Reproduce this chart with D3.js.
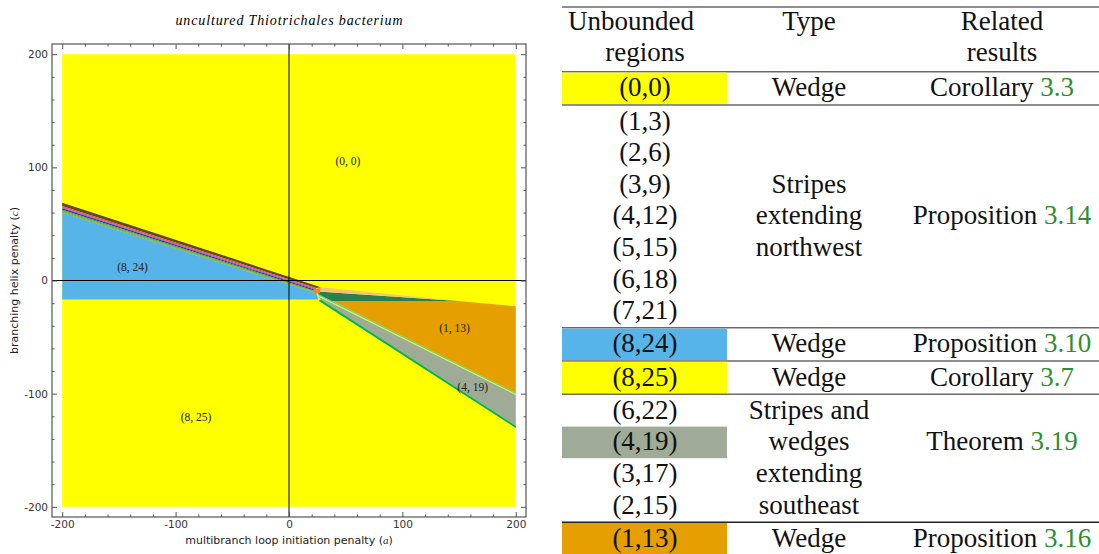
<!DOCTYPE html>
<html>
<head>
<meta charset="utf-8">
<script src="https://cdn.jsdelivr.net/npm/d3@7"></script>
<style>
  body { margin: 0; background: #fff; }
  svg { display: block; }
</style>
</head>
<body>
<svg id="chart" width="1099" height="554"></svg>
<script>
// ---- data (parameter space a vs c) ----
var plotTitle = "uncultured Thiotrichales bacterium";
var majorTicks = [-200, -100, 0, 100, 200];
var minorTicks = [-180, -160, -140, -120, -80, -60, -40, -20, 20, 40, 60, 80, 120, 140, 160, 180];

var yellowBox = [[-200, -200], [-200, 200], [200, 200], [200, -200]];
var blueWedge = [[-200, 59.9], [24, -11.3], [26, -16.8], [-200, -16.8]];
var orangeWedge = [[36, -18.2], [149, -18.1], [200, -22.7], [200, -99.4], [26, -12.0]];
var greenSliver = [[25.6, -9.7], [149, -18.1], [36, -18.2], [26, -12.6]];
var peachSliver = [[28, -5.9], [149, -18.1], [25.6, -9.7]];
var apexPatch = [[21, -8.2], [28, -6.4], [27, -11.2], [23, -11.8]];
var stripe215 = [[26, -12.0], [200, -99.4], [200, -100.2], [25.5, -12.8]];
var stripe317 = [[25.5, -12.8], [200, -100.2], [200, -101.1], [25, -13.6]];
var grayWedge = [[25, -13.6], [200, -101.1], [200, -128.3], [28, -16.8]];
var stripe622 = [[28, -16.8], [200, -128.3], [200, -130.3], [26, -18.0]];

// northwest stripes (1,3)..(7,21): boundary y at a=-200, and end points near the apex
var bundleLeftY = [68.7, 65.8, 64.6, 63.8, 62.5, 61.6, 60.8, 59.9];
var bundleRight = [[28, -5.9], [24, -6.6], [24, -7.6], [24, -8.4], [24, -9.4], [24, -10.2], [24, -10.8], [24, -11.3]];
var bundleColors = ["#5c4a1f", "#ee4d88", "#c03fd0", "#2836e8", "#27a862", "#8c9a3c", "#5fb08a"];

var plotLabels = [["(0, 0)", 52, 106], ["(8, 24)", -138, 12], ["(1, 13)", 146, -42], ["(4, 19)", 162, -94], ["(8, 25)", -82, -121]];

// ---- table ----
var tableGroups = [
  { rows: ["(0,0)"], fills: ["#ffff00"], type: ["Wedge"], typeRow: 0, result: ["Corollary", "3.3"], resultRow: 0 },
  { rows: ["(1,3)", "(2,6)", "(3,9)", "(4,12)", "(5,15)", "(6,18)", "(7,21)"], fills: [], type: ["Stripes", "extending", "northwest"], typeRow: 2, result: ["Proposition", "3.14"], resultRow: 3 },
  { rows: ["(8,24)"], fills: ["#56b4e9"], type: ["Wedge"], typeRow: 0, result: ["Proposition", "3.10"], resultRow: 0 },
  { rows: ["(8,25)"], fills: ["#ffff00"], type: ["Wedge"], typeRow: 0, result: ["Corollary", "3.7"], resultRow: 0 },
  { rows: ["(6,22)", "(4,19)", "(3,17)", "(2,15)"], fills: [null, "#9fab96"], type: ["Stripes and", "wedges", "extending", "southeast"], typeRow: 0, result: ["Theorem", "3.19"], resultRow: 1 },
  { rows: ["(1,13)"], fills: ["#e69f00"], type: ["Wedge"], typeRow: 0, result: ["Proposition", "3.16"], resultRow: 0 }
];
var headerCols = [["Unbounded", "regions"], ["Type"], ["Related", "results"]];

var yellow = "#ffff00", blue = "#56b4e9", orange = "#e69f00", gray = "#9fab96";

// ---- plot ----
var svg = d3.select("#chart");
var x = d3.scaleLinear().domain([-209, 209]).range([52, 526]);
var y = d3.scaleLinear().domain([-209, 209]).range([517, 44]);
var line = d3.line().x(function(d) { return x(d[0]); }).y(function(d) { return y(d[1]); });
var shape = function(pts) { return line(pts) + "Z"; };

var plot = svg.append("g").attr("class", "plot");

plot.append("path").attr("d", shape(yellowBox)).attr("fill", yellow);
plot.append("path").attr("d", shape(blueWedge)).attr("fill", blue);
plot.append("path").attr("d", shape(orangeWedge)).attr("fill", orange);
plot.append("path").attr("d", shape(greenSliver)).attr("fill", "#297f4e");
plot.append("path").attr("d", shape(peachSliver)).attr("fill", "#f6c27a");
plot.append("path").attr("d", shape(grayWedge)).attr("fill", gray);
plot.append("path").attr("d", shape(stripe317)).attr("fill", "#d8ec66");
plot.append("path").attr("d", shape(stripe215)).attr("fill", "#4fd0a8");
plot.append("path").attr("d", shape(stripe622)).attr("fill", "#00b06a");

bundleColors.forEach(function(c, i) {
  var poly = [[-200, bundleLeftY[i]], bundleRight[i], bundleRight[i + 1], [-200, bundleLeftY[i + 1]]];
  plot.append("path").attr("d", shape(poly)).attr("fill", c);
});
plot.append("path").attr("d", shape(apexPatch)).attr("fill", "#f0882a");

// zero lines
plot.append("line").attr("x1", x(0)).attr("x2", x(0)).attr("y1", y(209)).attr("y2", y(-209))
    .attr("stroke", "#000").attr("stroke-width", 1);
plot.append("line").attr("x1", x(-209)).attr("x2", x(209)).attr("y1", y(0)).attr("y2", y(0))
    .attr("stroke", "#000").attr("stroke-width", 1);

// region labels
plot.selectAll("text.region").data(plotLabels).enter().append("text")
    .attr("class", "region")
    .attr("x", function(d) { return x(d[1]); })
    .attr("y", function(d) { return y(d[2]); })
    .attr("text-anchor", "middle")
    .attr("dominant-baseline", "central")
    .style("font-family", "'Liberation Serif', serif")
    .style("font-size", "11.5px")
    .style("fill", "#222")
    .text(function(d) { return d[0]; });

// frame + inward ticks on all sides
var fmt = function(d) { return String(d); };
var axes = [
  [d3.axisBottom(x), "translate(0," + y(-209) + ")", true],
  [d3.axisTop(x), "translate(0," + y(209) + ")", false],
  [d3.axisLeft(y), "translate(" + x(-209) + ",0)", true],
  [d3.axisRight(y), "translate(" + x(209) + ",0)", false]
];
axes.forEach(function(a) {
  var major = a[0].tickValues(majorTicks).tickSize(-5).tickPadding(4).tickFormat(a[2] ? fmt : "");
  var g = svg.append("g").attr("transform", a[1]).call(major);
  g.select(".domain").remove();
  g.selectAll("line").attr("stroke", "#555");
  g.selectAll("text").style("font-family", "'DejaVu Sans', sans-serif").style("font-size", "10.5px").style("fill", "#333");
  var minor = a[0].tickValues(minorTicks).tickSize(-2.5).tickFormat("");
  var gm = svg.append("g").attr("transform", a[1]).call(minor);
  gm.select(".domain").remove();
  gm.selectAll("line").attr("stroke", "#555");
});
svg.append("rect")
    .attr("x", x(-209)).attr("y", y(209))
    .attr("width", x(209) - x(-209)).attr("height", y(-209) - y(209))
    .attr("fill", "none").attr("stroke", "#555").attr("stroke-width", 1.2);

// titles
svg.append("text")
    .attr("x", x(0)).attr("y", 25)
    .attr("text-anchor", "middle")
    .style("font-family", "'Liberation Serif', serif")
    .style("font-style", "italic")
    .style("font-size", "14px")
    .attr("textLength", 227).attr("lengthAdjust", "spacing")
    .text(plotTitle);

var xl = svg.append("text")
    .attr("x", x(0)).attr("y", 544)
    .attr("text-anchor", "middle")
    .style("font-family", "'DejaVu Sans', sans-serif")
    .style("font-size", "11px")
    .style("fill", "#222");
xl.append("tspan").text("multibranch loop initiation penalty (");
xl.append("tspan").style("font-family", "'Liberation Serif', serif").style("font-style", "italic").text("a");
xl.append("tspan").text(")");

var yl = svg.append("text")
    .attr("transform", "translate(18," + y(0) + ") rotate(-90)")
    .attr("text-anchor", "middle")
    .style("font-family", "'DejaVu Sans', sans-serif")
    .style("font-size", "11px")
    .style("fill", "#222");
yl.append("tspan").text("branching helix penalty (");
yl.append("tspan").style("font-family", "'Liberation Serif', serif").style("font-style", "italic").text("c");
yl.append("tspan").text(")");

// ---- table ----
var tbl = svg.append("g").attr("class", "table");
var tLeft = 562, tRight = 1099, cellRight = 727;
var colX = [645, 809, 1002];
var rowH = 31.6, ruleGap = 1.6;
var tFont = function(sel) {
  return sel.style("font-family", "'Liberation Serif', serif").style("font-size", "27px").style("fill", "#111");
};
var baseOff = 8;

var rule = function(yy, col) {
  tbl.append("line").attr("x1", tLeft).attr("x2", tRight).attr("y1", yy).attr("y2", yy)
      .attr("stroke", col || "#6a6a6a").attr("stroke-width", 1.6);
};

var cur = 7;
rule(cur);
cur += ruleGap / 2;
// header (2 lines)
headerCols.forEach(function(lines, ci) {
  lines.forEach(function(t, li) {
    tFont(tbl.append("text"))
        .attr("x", ci === 0 && li === 0 ? colX[0] - 14 : colX[ci])
        .attr("y", cur + rowH * (li + 0.5) + baseOff - 2)
        .attr("text-anchor", "middle")
        .text(t);
  });
});
cur += 2 * rowH;

tableGroups.forEach(function(g, gi) {
  cur += ruleGap / 2;
  rule(cur, gi === tableGroups.length - 1 ? "#222" : null);
  cur += ruleGap / 2;
  var top = cur;
  g.rows.forEach(function(r, ri) {
    var fill = g.fills[ri];
    if (fill) {
      tbl.append("rect").attr("x", tLeft).attr("y", top + ri * rowH)
          .attr("width", cellRight - tLeft).attr("height", rowH).attr("fill", fill);
    }
    tFont(tbl.append("text"))
        .attr("x", colX[0]).attr("y", top + rowH * (ri + 0.5) + baseOff)
        .attr("text-anchor", "middle").text(r);
  });
  g.type.forEach(function(t, ti) {
    tFont(tbl.append("text"))
        .attr("x", colX[1]).attr("y", top + rowH * (g.typeRow + ti + 0.5) + baseOff)
        .attr("text-anchor", "middle").text(t);
  });
  var rt = tFont(tbl.append("text"))
      .attr("x", colX[2]).attr("y", top + rowH * (g.resultRow + 0.5) + baseOff)
      .attr("text-anchor", "middle");
  rt.append("tspan").text(g.result[0] + " ");
  rt.append("tspan").style("fill", "#2f8f2f").text(g.result[1]);
  cur += g.rows.length * rowH;
});
</script>
</body>
</html>
